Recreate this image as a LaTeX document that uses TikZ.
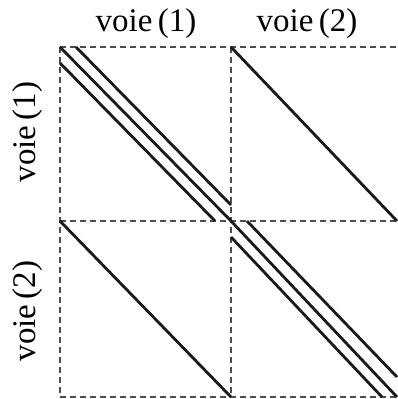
\documentclass[tikz,border=0pt]{standalone}
\usepackage{fontspec}
\setmainfont{Liberation Serif}
\begin{document}
\begin{tikzpicture}[x=1pt,y=-1pt,
  grid/.style={draw=black!70,line width=1.8pt,dash pattern=on 6pt off 4pt},
  track/.style={draw=black!90,line width=2.8pt},
  lab/.style={font=\fontsize{33}{38}\selectfont,inner sep=0pt}]
\useasboundingbox (0,0) rectangle (398,399);
% grid coordinates
\coordinate (A) at (60,47);
\coordinate (B) at (231,47);
\coordinate (C) at (397,47);
\coordinate (D) at (60,221);
\coordinate (E) at (231,221);
\coordinate (F) at (397,221);
\coordinate (G) at (60,397);
\coordinate (H) at (231,397);
\coordinate (I) at (397,397);
% dashed grid
\draw[grid] (A) -- (C);
\draw[grid] (D) -- (F);
\draw[grid] (G) -- (I);
\draw[grid] (A) -- (G);
\draw[grid] (B) -- (H);
% tracks
\draw[track] (A) -- (E) -- (I);
\draw[track] (76,47) -- (231,205);
\draw[track] (60,63) -- (215,221);
\draw[track] (247,221) -- (397,377);
\draw[track] (231,237) -- (382,397);
\draw[track] (B) -- (F);
\draw[track] (D) -- (H);
% labels
\node[lab] (c1) at (146,24) {voie\,(1)};
\node[lab] (c2) at (307,24) {voie\,(2)};
\node[lab,rotate=90] (r1) at (28,132) {voie\,(1)};
\node[lab,rotate=90] (r2) at (28,311) {voie\,(2)};
\end{tikzpicture}
\end{document}
